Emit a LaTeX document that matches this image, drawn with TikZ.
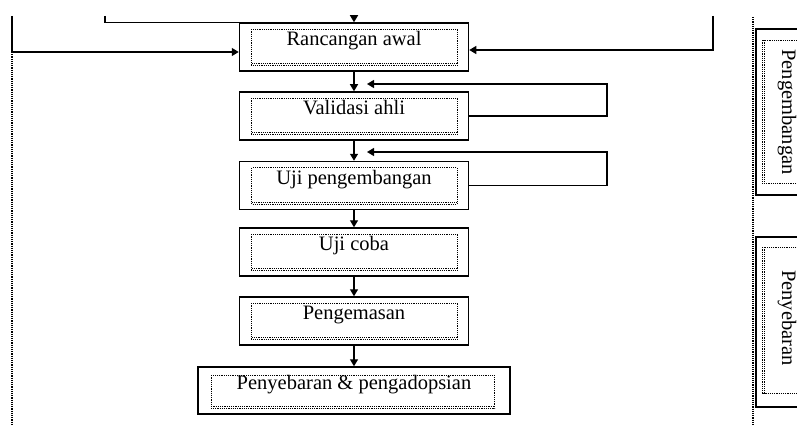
\documentclass[tikz,border=0pt]{standalone}
\usepackage{fontspec}
\setmainfont{Liberation Serif}
\usetikzlibrary{calc,arrows.meta}

\begin{document}
\begin{tikzpicture}[x=1pt,y=1pt,
    box/.style={draw,line width=1.5pt,inner sep=0pt},
    dot/.style={line width=1.2pt,dash pattern=on 1.2pt off 1pt},
    line/.style={line width=1.4pt},
    arr/.style={line width=1.4pt,-{Triangle[length=7pt,width=8pt]}},
    lbl/.style={font=\fontsize{20.5}{24}\selectfont,anchor=base,inner sep=0pt}]
    \useasboundingbox (0,0) rectangle (797,-425);
    \clip (0,0) rectangle (797,-425);

    \foreach \y/\i/\t in {47/1/Rancangan awal,116/2/Validasi ahli,185.5/3/Uji pengembangan,252/4/Uji coba,321/5/Pengemasan} {
        \node[box,minimum width=229,minimum height=48] (r\i) at (354,-\y) {};
        \draw[dot] ($(r\i.north west)+(13,-7)$) rectangle ($(r\i.south east)+(-12,6)$);
        \draw[dot] ($(r\i.south west)+(13,8)$) -- ($(r\i.south east)+(-12,8)$);
        \node[lbl] (t\i) at ($(r\i.center)+(0,1.5)$) {\t};}

    \node[box,minimum width=312,minimum height=47] (r6) at (354,-390.5) {};
    \draw[dot] ($(r6.north west)+(14,-9)$) rectangle ($(r6.south east)+(-16,6)$);
    \draw[dot] ($(r6.south west)+(14,8)$) -- ($(r6.south east)+(-16,8)$);
    \node[lbl] (t6) at ($(r6.center)+(0,1.5)$) {Penyebaran \& pengadopsian};

    \foreach \a/\b in {1/2,2/3,3/4,4/5,5/6}
        \draw[arr] (r\a.south) -- (r\b.north);

    % feedback loops
    \coordinate (c2) at (607,-84);
    \coordinate (f2) at (367,-84);
    \draw[arr] (r2.east) -| (c2) -- (f2);
    \coordinate (c3) at (607,-152);
    \coordinate (f3) at (367,-152);
    \draw[arr] (r3.east) -| (c3) -- (f3);

    % lines coming in from above
    \coordinate (lt) at (12,-16);
    \coordinate (lb) at (12,-425);
    \draw[arr] (lt) |- ($(r1.west)+(0,-5)$);
    \draw[dot] (12,-52) -- (lb);
    \coordinate (lm) at (105,-16);
    \draw[line] (lm) |- (r1.north west);
    \coordinate (tp) at (354,-15);
    \draw[arr] (tp) -- (r1.north);
    \coordinate (rt) at (713,-16);
    \draw[arr] (rt) |- ($(r1.east)+(0,-3)$);

    % phases on the right
    \coordinate (dt) at (753,-17);
    \coordinate (db) at (753,-425);
    \draw[dot] (dt) -- (db);
    \node[box,minimum width=80,minimum height=166] (s1) at (796,-112) {};
    \draw[dot] ($(s1.north west)+(7,-12)$) rectangle ($(s1.south east)+(-7,12)$);
    \draw[dot] ($(s1.north west)+(9,-12)$) -- ($(s1.south west)+(9,12)$);
    \node[lbl,rotate=-90,anchor=center] (u1) at (787,-112) {Pengembangan};
    \node[box,minimum width=80,minimum height=170] (s2) at (796,-322) {};
    \draw[dot] ($(s2.north west)+(7,-11)$) rectangle ($(s2.south east)+(-7,14)$);
    \draw[dot] ($(s2.north west)+(9,-11)$) -- ($(s2.south west)+(9,14)$);
    \node[lbl,rotate=-90,anchor=center] (u2) at (787,-318) {Penyebaran};
\end{tikzpicture}
\end{document}
